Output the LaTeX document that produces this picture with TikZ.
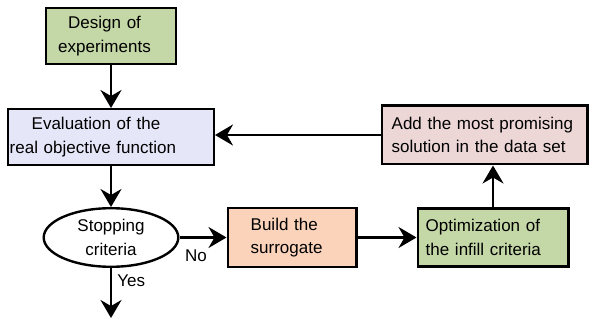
\documentclass[tikz,border=0pt]{standalone}
\usepackage{fontspec}
\setmainfont{Liberation Sans}
\usepackage{tikz}
\usetikzlibrary{shapes}
\usetikzlibrary{positioning}
\usetikzlibrary{arrows.meta}
\usepackage{color}
\definecolor{doegreen}{RGB}{196,215,166}
\definecolor{evalblue}{RGB}{230,230,249}
\definecolor{addpink}{RGB}{236,214,214}
\definecolor{buildpeach}{RGB}{250,211,186}
\tikzstyle{block} = [rectangle, draw=black, line width=2.4pt, align=left,
inner ysep=2pt, font=\fontsize{17}{23.5}\selectfont]
\tikzstyle{decision} = [ellipse, draw=black, fill=white, line width=2.4pt,
align=center, inner sep=0pt, minimum width=134.6pt, minimum height=58.6pt,
font=\fontsize{17}{23.5}\selectfont]
\tikzstyle{caption} = [font=\fontsize{17}{20}\selectfont]
\tikzset{>={Stealth[length=18pt,width=21pt,inset=6pt]}}
\newcommand{\flowto}[3][]{ %
  % Arrow from node #2 to node #3.
  \draw[->,line width=2.2pt,#1] (#2) -- (#3) ;%
}

\begin{document}
\begin{tikzpicture}
				\useasboundingbox (0,0) rectangle (596pt,-320pt);
				\node[block, fill=doegreen, minimum height=55.6pt, inner xsep=12pt,
				text width=105.6pt] (doe) at (111pt,-36pt)
				{\hspace*{10pt}Design of\\experiments} ; %
				\node[block, fill=evalblue, below=43pt of doe, minimum height=55.6pt,
				inner xsep=1.5pt, text width=202.6pt] (eval)
				{\hspace*{22pt}Evaluation of the\\real objective function} ; %
				\node[decision, below=41pt of eval] (stop) {Stopping\\criteria} ; %
				\node[block, fill=buildpeach, right=47pt of stop, minimum height=58.6pt,
				inner xsep=23pt, text width=82.6pt] (build) {Build the\\surrogate} ; %
				\node[block, fill=doegreen, right=59pt of build, minimum height=57.6pt,
				inner xsep=8pt, text width=134.6pt] (opt)
				{Optimization of\\the infill criteria} ; %
				\node[block, fill=addpink, above=42pt of opt, xshift=-8.5pt,
				minimum height=58.6pt, inner xsep=10pt, text width=185.6pt] (add)
				{Add the most promising\\solution in the data set} ; %
				\coordinate[below=50pt of stop.south] (out) ;

				\flowto{doe}{eval}
				\flowto{eval}{stop}
				\draw[->,line width=2.2pt] (stop) -- node[caption, below=8pt, pos=0.35] {No} (build) ;
				\draw[->,line width=2.2pt] (stop) -- node[caption, right, pos=0.25, xshift=2pt] {Yes} (out) ;
				\flowto{build}{opt}
				\flowto{opt.north}{opt.north |- add.south}
				\flowto{add.west}{add.west -| eval.east}
				\end{tikzpicture}
\end{document}
